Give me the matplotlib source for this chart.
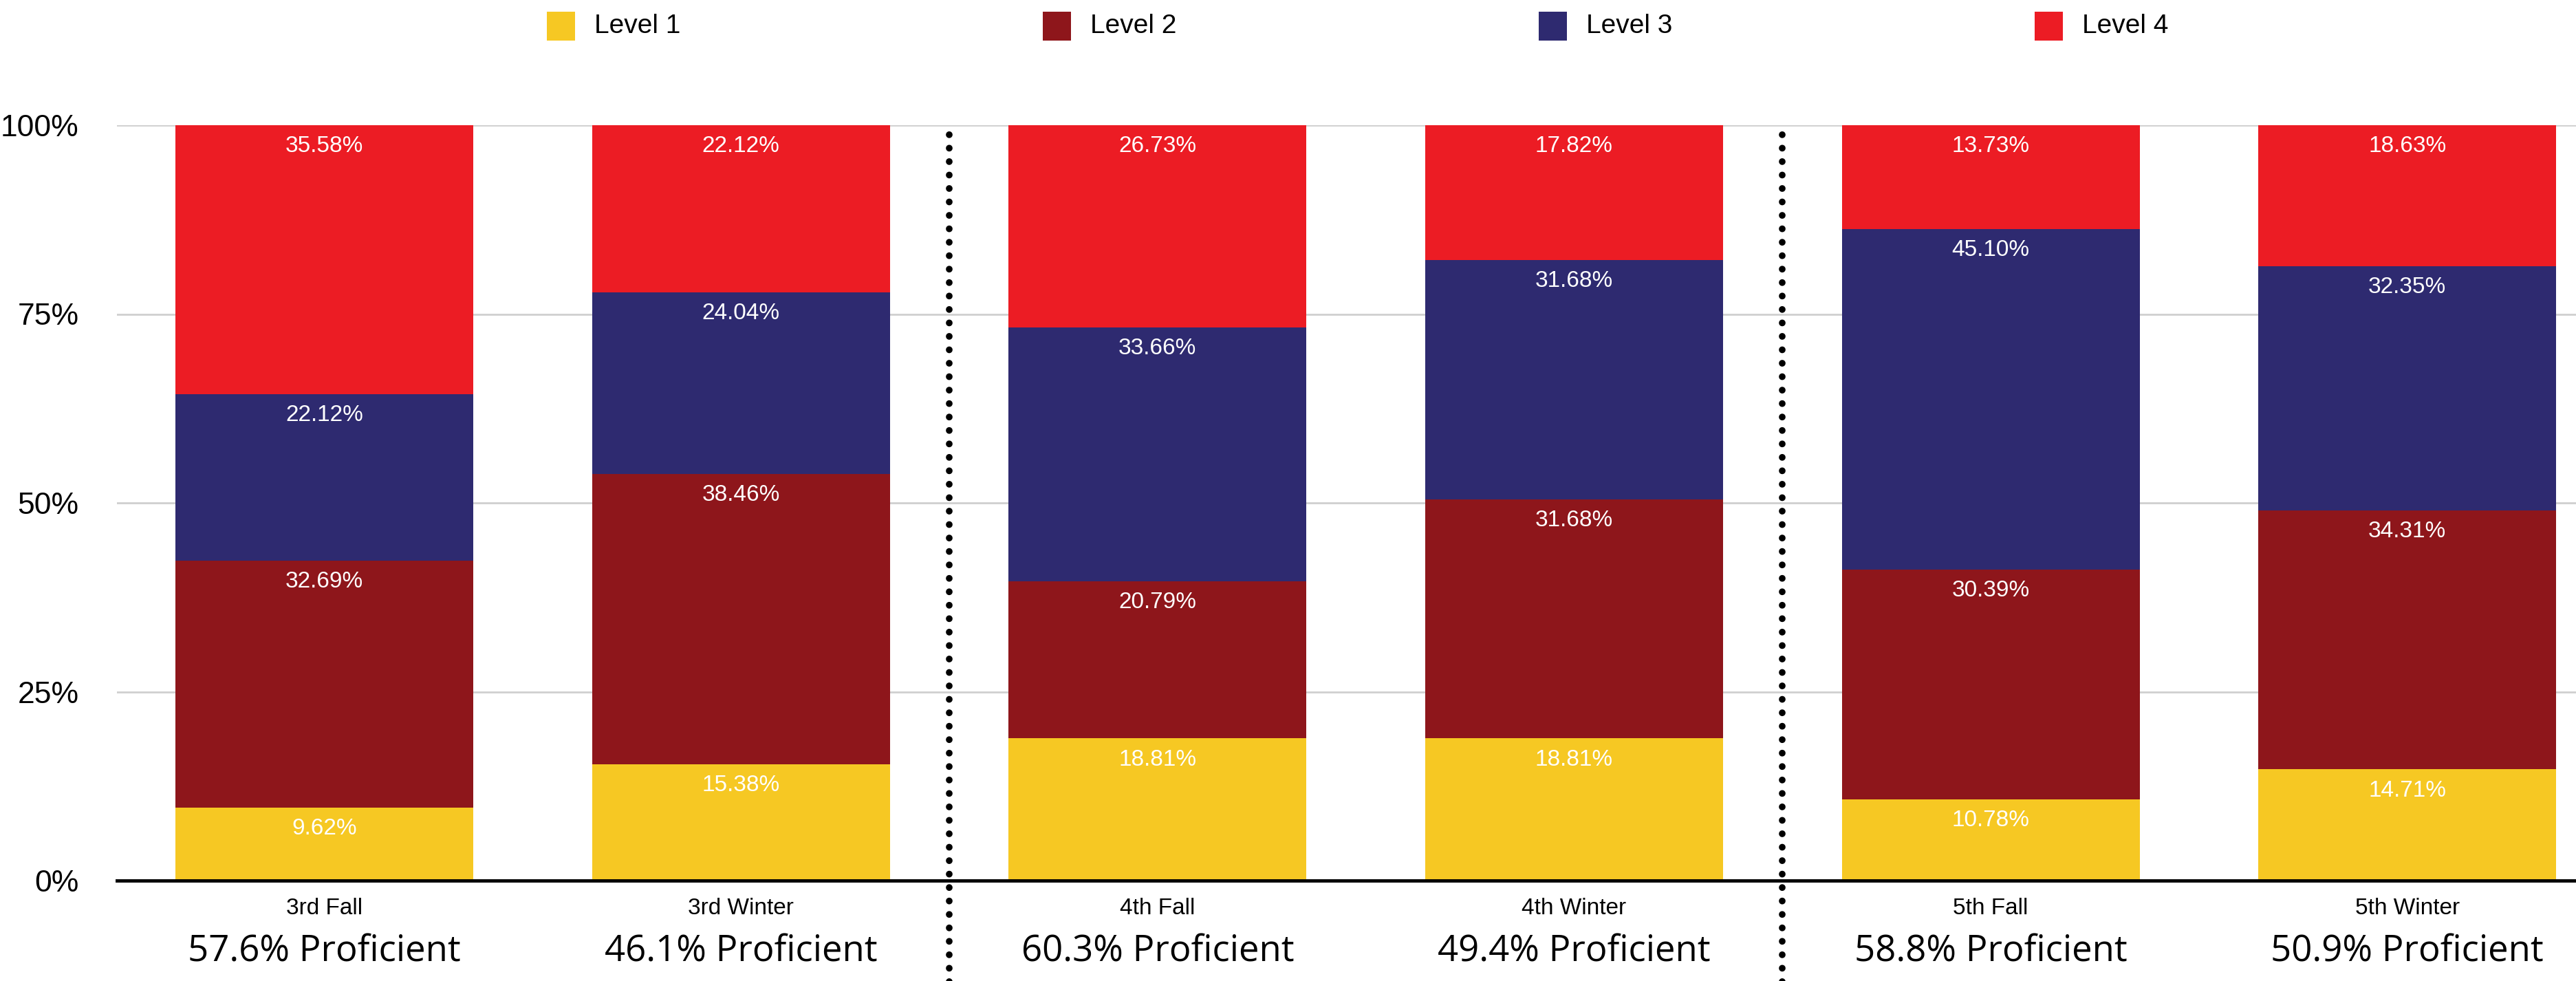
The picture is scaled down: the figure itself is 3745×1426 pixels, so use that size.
import matplotlib
matplotlib.use("Agg")
import matplotlib.pyplot as plt
from matplotlib.patches import Rectangle
import numpy as np

# Data
categories = ["3rd Fall", "3rd Winter", "4th Fall", "4th Winter", "5th Fall", "5th Winter"]
level_names = ["Level 1", "Level 2", "Level 3", "Level 4"]
level1 = [9.62, 15.38, 18.81, 18.81, 10.78, 14.71]
level2 = [32.69, 38.46, 20.79, 31.68, 30.39, 34.31]
level3 = [22.12, 24.04, 33.66, 31.68, 45.10, 32.35]
level4 = [35.58, 22.12, 26.73, 17.82, 13.73, 18.63]
proficient = [57.6, 46.1, 60.3, 49.4, 58.8, 50.9]
grade_dividers = [1.5, 3.5]

colors = ["#F6C823", "#8E161B", "#2E2A70", "#EC1C24"]
series = [level1, level2, level3, level4]

W, H, DPI = 3745, 1426, 100
fig = plt.figure(figsize=(W / DPI, H / DPI), dpi=DPI)
fig.patch.set_facecolor("white")

ax_left, ax_right = 170 / W, 1.0
ax_bottom, ax_top = 1 - 1280 / H, 1 - 182 / H
ax = fig.add_axes([ax_left, ax_bottom, ax_right - ax_left, ax_top - ax_bottom])

x = np.arange(len(categories))
bar_w = 0.715
sans = ["Liberation Sans", "DejaVu Sans"]

bottom = np.zeros(len(categories))
for vals, col in zip(series, colors):
    vals = np.asarray(vals)
    ax.bar(x, vals, bottom=bottom, width=bar_w, color=col, zorder=2, linewidth=0)
    for xi, b, v in zip(x, bottom, vals):
        ax.annotate(f"{v:.2f}%", xy=(xi, b + v), xytext=(0, -22), textcoords="offset points",
                    ha="center", va="center", color="white", fontsize=24,
                    family=sans, zorder=3)
    bottom = bottom + vals

ax.set_xlim(-0.498, 5.405)
ax.set_ylim(0, 100)
ax.set_yticks([0, 25, 50, 75, 100])
ax.set_yticklabels(["0%", "25%", "50%", "75%", "100%"], family=sans, fontsize=32)
ax.tick_params(axis="y", length=0, pad=40)
ax.set_xticks(x)
ax.set_xticklabels(categories, family=sans, fontsize=24)
ax.tick_params(axis="x", length=0, pad=18)
ax.grid(axis="y", color="#CFCFCF", linewidth=2, zorder=0)
for s in ["left", "right", "top"]:
    ax.spines[s].set_visible(False)
ax.spines["bottom"].set_color("black")
ax.spines["bottom"].set_linewidth(3.5)
ax.spines["bottom"].set_zorder(4)

# Proficiency summary under each bar
for xi, p in zip(x, proficient):
    ax.annotate(f"{p:.1f}% Proficient", xy=(xi, 0), xycoords=("data", "axes fraction"),
                xytext=(0, -75), textcoords="offset points", ha="center", va="center",
                fontsize=38, family=["Open Sans", "DejaVu Sans"], color="black")

# Dotted dividers between grades
for d in grade_dividers:
    ax.axvline(d, ymin=-0.14, ymax=1.0, color="black", linestyle=(0, (0.01, 2.0)),
               linewidth=7, dash_capstyle="round", clip_on=False, zorder=5)

# Legend row
leg_x0, leg_step = 795, 721
for i, (name, col) in enumerate(zip(level_names, colors)):
    px = leg_x0 + i * leg_step
    fig.add_artist(Rectangle((px / W, 1 - 59 / H), 41 / W, 42 / H,
                             transform=fig.transFigure, color=col, linewidth=0))
    fig.text((px + 69) / W, 1 - 38 / H, name, ha="left", va="center",
             fontsize=28, family=sans, color="black")

fig.savefig("out.png", dpi=DPI, facecolor="white")
